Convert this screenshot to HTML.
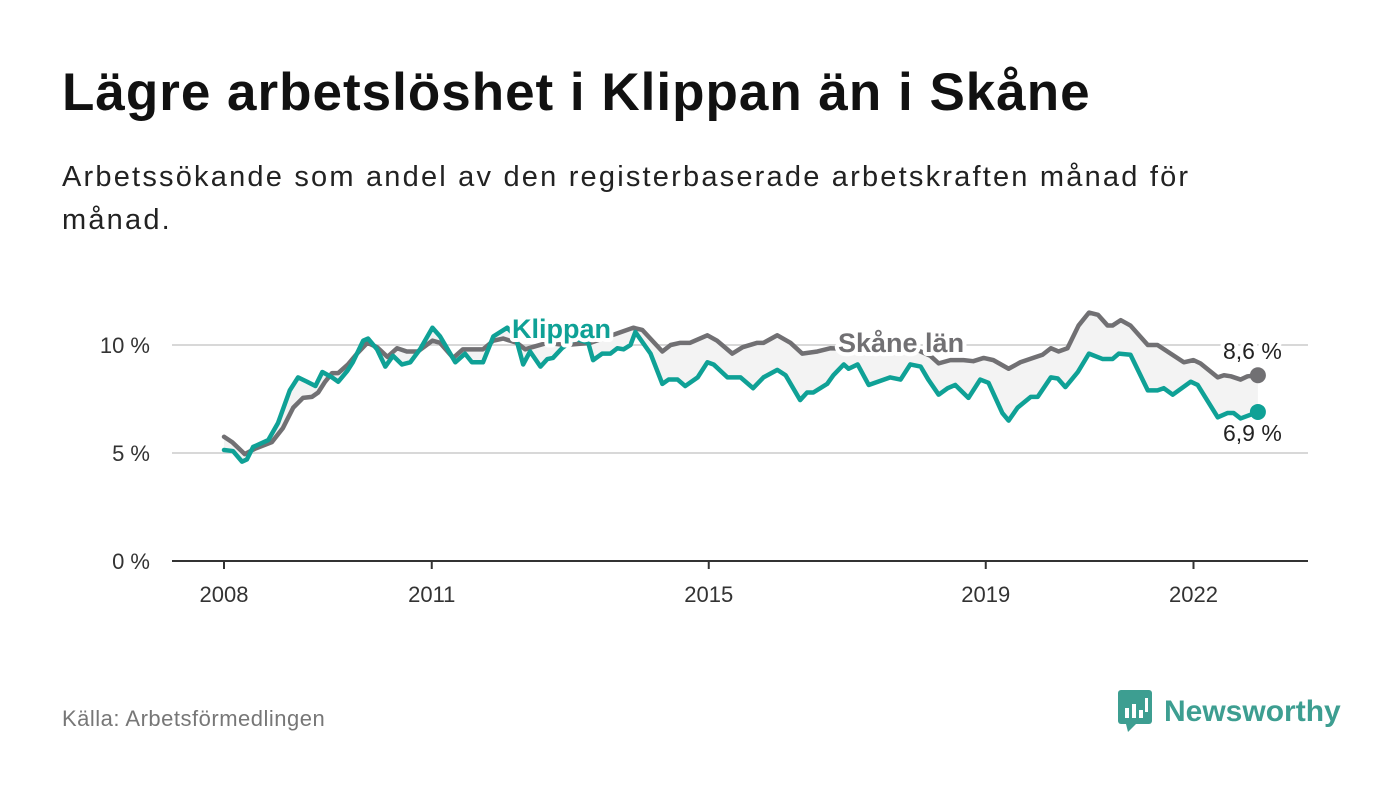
<!DOCTYPE html>
<html><head><meta charset="utf-8">
<style>
body{margin:0;background:#fff;width:1400px;height:794px;overflow:hidden;font-family:"Liberation Sans",sans-serif;}
#title{position:absolute;left:62px;top:62px;font-size:53px;font-weight:bold;color:#111;margin:0;letter-spacing:1px}
#sub{position:absolute;left:62px;top:156px;font-size:29px;color:#222;line-height:43px;width:1235px;margin:0;letter-spacing:2.2px}
#src{position:absolute;left:62px;top:706px;font-size:22px;color:#777;letter-spacing:0.5px}
#logo{position:absolute;left:1118px;top:690px;display:flex;align-items:center}
#logo span{font-size:30px;font-weight:bold;color:#3d9e91;margin-left:10px}
</style></head><body>
<h1 id="title">Lägre arbetslöshet i Klippan än i Skåne</h1>
<p id="sub">Arbetssökande som andel av den registerbaserade arbetskraften månad för månad.</p>
<svg id="chart" width="1400" height="794" style="position:absolute;left:0;top:0"></svg>
<div id="src">Källa: Arbetsförmedlingen</div>
<div id="logo">
<svg width="36" height="44"><rect x="0" y="0" width="34" height="34" rx="3" fill="#3d9e91"/><polygon points="8,34 18,34 10,42" fill="#3d9e91"/><rect x="7" y="18" width="4" height="10" fill="#fff"/><rect x="14" y="14" width="4" height="14" fill="#fff"/><rect x="21" y="20" width="4" height="8" fill="#fff"/><rect x="27" y="8" width="3" height="14" fill="#fff"/></svg>
<span>Newsworthy</span></div>
<script>
const skTimes=[2008.0,2008.12,2008.30,2008.45,2008.69,2008.85,2009.00,2009.14,2009.27,2009.36,2009.46,2009.56,2009.65,2009.79,2009.92,2010.07,2010.21,2010.36,2010.50,2010.64,2010.80,2011.01,2011.12,2011.31,2011.45,2011.74,2011.89,2012.03,2012.23,2012.35,2012.45,2012.67,2012.93,2013.29,2013.91,2014.04,2014.33,2014.45,2014.59,2014.73,2014.98,2015.12,2015.34,2015.49,2015.70,2015.79,2015.99,2016.18,2016.35,2016.57,2016.76,2017.19,2017.62,2017.99,2018.20,2018.32,2018.49,2018.68,2018.82,2018.97,2019.11,2019.33,2019.50,2019.68,2019.82,2019.94,2020.05,2020.18,2020.34,2020.49,2020.62,2020.76,2020.83,2020.95,2021.09,2021.34,2021.48,2021.67,2021.86,2022.00,2022.10,2022.35,2022.44,2022.54,2022.68,2022.78,2022.93];
const skValues=[5.75,5.5,4.95,5.2,5.5,6.15,7.1,7.55,7.6,7.8,8.3,8.7,8.7,9.1,9.6,10.1,9.9,9.45,9.85,9.7,9.7,10.2,10.1,9.4,9.8,9.8,10.2,10.3,10.1,9.8,9.9,10.1,10.0,10.1,10.8,10.7,9.7,10.0,10.1,10.1,10.45,10.2,9.6,9.9,10.1,10.1,10.45,10.1,9.6,9.7,9.85,9.8,9.7,9.8,9.5,9.15,9.3,9.3,9.25,9.4,9.3,8.9,9.2,9.4,9.55,9.85,9.7,9.85,10.9,11.5,11.4,10.9,10.9,11.15,10.9,10.0,10.0,9.6,9.2,9.3,9.15,8.5,8.6,8.55,8.4,8.55,8.6];
const klTimes=[2008.0,2008.13,2008.26,2008.33,2008.42,2008.64,2008.78,2008.95,2009.07,2009.20,2009.32,2009.42,2009.56,2009.65,2009.78,2009.86,2010.01,2010.08,2010.21,2010.33,2010.44,2010.57,2010.69,2010.83,2011.01,2011.12,2011.34,2011.48,2011.58,2011.74,2011.89,2012.09,2012.21,2012.32,2012.42,2012.57,2012.67,2012.75,2012.88,2013.07,2013.26,2013.33,2013.46,2013.58,2013.68,2013.77,2013.87,2013.94,2014.16,2014.33,2014.42,2014.55,2014.66,2014.84,2014.98,2015.07,2015.27,2015.46,2015.64,2015.79,2015.99,2016.11,2016.32,2016.42,2016.51,2016.71,2016.80,2016.95,2017.02,2017.15,2017.31,2017.62,2017.77,2017.91,2018.06,2018.17,2018.32,2018.45,2018.56,2018.75,2018.92,2019.04,2019.24,2019.33,2019.46,2019.65,2019.75,2019.94,2020.04,2020.15,2020.33,2020.49,2020.69,2020.83,2020.92,2021.09,2021.34,2021.48,2021.57,2021.70,2021.96,2022.06,2022.35,2022.49,2022.58,2022.68,2022.93];
const klValues=[5.14,5.09,4.6,4.7,5.28,5.6,6.39,7.9,8.5,8.3,8.1,8.75,8.5,8.3,8.8,9.2,10.2,10.3,9.8,9.0,9.5,9.1,9.2,9.8,10.8,10.4,9.2,9.6,9.2,9.2,10.4,10.8,10.4,9.1,9.7,9.0,9.35,9.4,9.85,10.3,10.1,9.3,9.6,9.6,9.85,9.8,10.0,10.6,9.6,8.2,8.4,8.4,8.1,8.5,9.2,9.1,8.5,8.5,8.0,8.5,8.85,8.6,7.45,7.8,7.8,8.2,8.6,9.1,8.9,9.1,8.15,8.5,8.4,9.1,9.0,8.4,7.7,8.0,8.15,7.55,8.4,8.25,6.85,6.5,7.1,7.6,7.6,8.5,8.45,8.05,8.75,9.6,9.35,9.35,9.6,9.55,7.9,7.9,8.0,7.7,8.3,8.15,6.65,6.85,6.85,6.6,6.9];
const yTicks=[0,5,10];
const yTickLabels=["0 %","5 %","10 %"];
const xTicks=[2008,2011,2015,2019,2022];
const xTickLabels=["2008","2011","2015","2019","2022"];

const NS="http://www.w3.org/2000/svg";
const svg=document.getElementById('chart');
const X=t=>224+(t-2008)*69.25;
const Y=v=>561-v*21.6;
function mk(tag,attrs,parent){const e=document.createElementNS(NS,tag);for(const k in attrs)e.setAttribute(k,attrs[k]);(parent||svg).appendChild(e);return e;}
const F='"Liberation Sans",sans-serif';
yTicks.forEach((v,i)=>{
  if(v>0){const g=mk('line',{x1:172,x2:1308,y1:Y(v),y2:Y(v),stroke:'#d8d8d8','stroke-width':2});
  
  }
  const t=mk('text',{x:150,y:Y(v)+8,'text-anchor':'end','font-size':22,fill:'#333','font-family':F});
  t.textContent=yTickLabels[i];
  
  
});
let pts=skTimes.map((t,i)=>X(t)+','+Y(skValues[i]));
for(let i=klTimes.length-1;i>=0;i--)pts.push(X(klTimes[i])+','+Y(klValues[i]));
const area=mk('polygon',{points:pts.join(' '),fill:'#f3f3f3'});


const ax=mk('line',{x1:172,x2:1308,y1:Y(0),y2:Y(0),stroke:'#333','stroke-width':2});


xTicks.forEach((t,i)=>{
  const tk=mk('line',{x1:X(t),x2:X(t),y1:Y(0),y2:Y(0)+8,stroke:'#333','stroke-width':2});
  
  
  const l=mk('text',{x:X(t),y:602,'text-anchor':'middle','font-size':22,fill:'#333','font-family':F});
  l.textContent=xTickLabels[i];
  
  
});
function line(times,vals,color,name){
  const d=times.map((t,i)=>(i?'L':'M')+X(t)+','+Y(vals[i])).join('');
  const p=mk('path',{d:d,fill:'none',stroke:color,'stroke-width':4.5,'stroke-linejoin':'round','stroke-linecap':'round'});
  
  
  const n=times.length-1;
  const c=mk('circle',{cx:X(times[n]),cy:Y(vals[n]),r:8,fill:color});
  
  
}
line(skTimes,skValues,'#717073','skane-line');
line(klTimes,klValues,'#0fa196','klippan-line');
function label(txt,x,y,color,size,bold,name,halo){
  const t=mk('text',{x:x,y:y,'font-size':size,fill:color,'font-family':F,'font-weight':bold?'bold':'normal'});
  if(halo){t.setAttribute('stroke','#fff');t.setAttribute('stroke-width',8);t.setAttribute('paint-order','stroke');t.setAttribute('stroke-linejoin','round');}
  t.textContent=txt;
  
  
}
label('Klippan',512,338,'#0fa196',27,true,'klippan-series-label',true);
label('Skåne län',838,352,'#717073',27,true,'skane-series-label',true);
label('8,6 %',1223,359,'#222',23,false,'skane-end-value',true);
label('6,9 %',1223,441,'#222',23,false,'klippan-end-value',true);
</script>
</body></html>
